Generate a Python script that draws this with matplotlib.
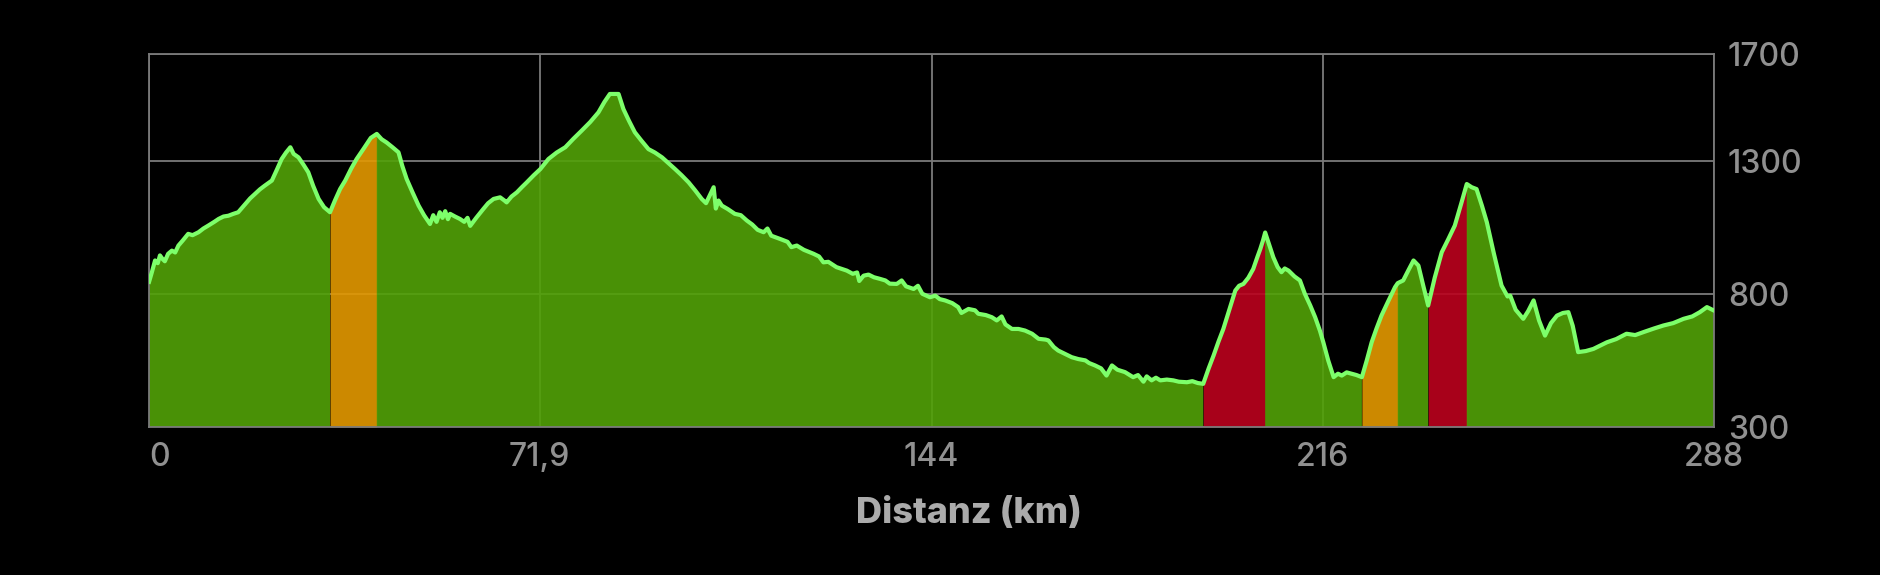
import numpy as np
import matplotlib
matplotlib.use('Agg')
import matplotlib.pyplot as plt

plt.rcParams['font.family'] = ['Inter', 'DejaVu Sans']

# distance (km) and elevation (m)
km = [0.0, 0.5, 1.1, 1.6, 2.0, 2.5, 2.9, 3.5, 4.2, 4.8, 5.4, 6.2, 7.2, 8.0, 9.1, 10.0,
      10.9, 12.0, 12.8, 13.7, 14.6, 15.5, 16.4, 17.7, 18.6, 19.5, 20.4, 21.3, 22.6, 23.5,
      24.4, 25.2, 26.0, 26.6, 27.5, 28.4, 29.3, 30.2, 31.2, 32.2, 33.3, 34.2, 35.15, 36.1,
      37.2, 38.2, 39.5, 40.8, 41.9, 42.8, 43.7, 44.8, 45.9, 46.6, 47.4, 48.5, 49.6, 50.6,
      51.7, 52.3, 52.9, 53.5, 54.0, 54.5, 55.0, 55.4, 56.3, 57.2, 58.0, 58.6, 59.1, 60.2,
      61.5, 62.4, 63.4, 64.6, 65.4, 65.8, 66.7, 67.7, 68.6, 69.5, 70.8, 72.0, 73.5, 75.0,
      76.6, 78.1, 79.6, 81.2, 82.7, 83.8, 84.8, 86.4, 87.3, 88.3, 89.4, 90.6, 91.9, 93.1,
      94.4, 95.6, 96.8, 98.0, 99.3, 100.5, 101.7, 102.5, 103.2, 103.9, 104.3, 104.8, 105.4,
      106.5, 107.8, 108.9, 110.0, 111.0, 112.0, 113.1, 113.8, 114.5, 116.1, 117.5, 118.2,
      119.2, 120.5, 122.3, 123.3, 124.1, 125.0, 126.5, 127.5, 128.4, 129.5, 130.3, 130.7,
      131.5, 132.4, 133.4, 134.5, 135.5, 136.3, 137.6, 138.5, 139.3, 140.7, 141.5, 142.3,
      143.7, 144.7, 145.5, 146.5, 147.8, 148.9, 149.5, 150.8, 152.0, 152.6, 154.0, 155.1,
      156.0, 156.9, 157.6, 158.8, 160.0, 161.2, 162.5, 163.7, 165.0, 165.5, 166.5, 167.3,
      168.5, 169.8, 171.0, 172.3, 173.0, 174.1, 175.2, 176.2, 177.2, 178.2, 179.6, 181.1,
      182.0, 183.0, 183.6, 184.5, 185.3, 186.1, 187.3, 188.5, 189.5, 191.0, 192.0, 193.0,
      194.0, 195.0, 195.9, 196.8, 197.7, 198.8, 199.9, 200.6, 201.4, 202.3, 203.2, 204.0,
      204.5, 205.0, 205.4, 206.2, 206.9, 207.7, 208.4, 209.0, 209.7, 210.8, 211.8, 212.7,
      213.7, 214.6, 215.5, 216.1, 217.0, 218.0, 218.8, 219.5, 220.4, 221.3, 222.2, 223.2,
      224.1, 225.0, 225.9, 226.8, 228.0, 229.3, 229.8, 230.8, 231.8, 232.7, 233.6, 234.5,
      235.4, 236.6, 237.9, 239.1, 240.3, 241.5, 242.5, 243.4, 244.3, 245.3, 246.2, 247.5,
      248.9, 250.0, 250.5, 251.5, 252.9, 253.8, 254.8, 255.8, 256.9, 258.0, 259.1, 260.2,
      261.2, 262.0, 263.0, 264.4, 265.8, 267.0, 268.3, 270.0, 271.9, 273.5, 275.0, 277.0,
      278.7, 280.5, 282.4, 284.0, 285.4, 286.7, 288.0]
elev = [845, 880, 925, 915, 944, 930, 922, 950, 962, 955, 981, 1000, 1025, 1020, 1031, 1045,
        1056, 1070, 1081, 1090, 1093, 1100, 1106, 1137, 1158, 1175, 1192, 1206, 1225, 1265,
        1306, 1330, 1350, 1325, 1312, 1285, 1256, 1205, 1156, 1125, 1106, 1150, 1193, 1225,
        1270, 1306, 1345, 1385, 1400, 1380, 1368, 1350, 1331, 1280, 1231, 1180, 1131, 1095,
        1062, 1095, 1070, 1106, 1085, 1110, 1080, 1100, 1090, 1081, 1070, 1085, 1055, 1085,
        1118, 1140, 1156, 1162, 1150, 1143, 1165, 1181, 1200, 1218, 1245, 1268, 1306, 1330,
        1350, 1382, 1412, 1445, 1481, 1520, 1550, 1550, 1493, 1450, 1406, 1375, 1343, 1330,
        1312, 1290, 1268, 1245, 1218, 1188, 1156, 1140, 1170, 1200, 1120, 1150, 1131,
        1118, 1100, 1095, 1075, 1060, 1040, 1031, 1045, 1018, 1006, 995, 975,
        981, 965, 950, 940, 918, 920, 900, 893, 887, 875, 880, 848,
        868, 872, 862, 856, 850, 838, 837, 850, 828, 818, 830, 800,
        787, 793, 780, 775, 765, 750, 728, 743, 738, 725, 720, 712,
        700, 715, 685, 668, 668, 662, 650, 631, 628, 625, 600, 587,
        575, 562, 555, 550, 540, 531, 520, 493, 531, 515, 506, 487,
        495, 470, 490, 475, 485, 475, 478, 475, 470, 468, 472, 465,
        462, 520, 568, 620, 668, 740, 812, 830, 837, 860, 893, 940,
        968, 1000, 1030, 980, 937, 900, 881, 895, 887, 865, 850, 800,
        756, 712, 660, 618, 550, 487, 500, 493, 505, 500, 495, 487,
        550, 618, 670, 718, 770, 825, 840, 850, 890, 925, 906, 830,
        756, 860, 956, 1005, 1056, 1140, 1212, 1200, 1193, 1130, 1068, 950,
        831, 790, 793, 740, 706, 735, 775, 700, 643, 690, 718, 728,
        731, 680, 581, 585, 593, 605, 618, 630, 650, 645, 656, 670,
        681, 690, 706, 715, 731, 750, 737]

# steep sections (start km, end km, colour)
seg_start = [33.3, 194.0, 223.2, 235.4]
seg_end = [41.9, 205.4, 229.8, 242.5]
seg_color = ['#e39900', '#bb021d', '#e39900', '#bb021d']

xticks = [0, 71.9, 144, 216, 288]
xticklabels = ['0', '71,9', '144', '216', '288']
yticks = [300, 800, 1300, 1700]

km = np.array(km)
elev = np.array(elev)

fig = plt.figure(figsize=(18.8, 5.75), dpi=100, facecolor='black')
ax = fig.add_axes([0.0793, 0.2574, 0.8324, 0.6487])
ax.set_facecolor('black')

in_seg = np.zeros(len(km), dtype=bool)
for a, b, c in zip(seg_start, seg_end, seg_color):
    m = (km >= a) & (km <= b)
    in_seg |= (km > a) & (km < b)
    ax.fill_between(km, 300, elev, where=m, color=c, alpha=0.9, lw=0, zorder=2)
ax.fill_between(km, 300, elev, where=~in_seg, color='#52a207', alpha=0.9, lw=0, zorder=2)
ax.plot(km, elev, color='#7dff6a', lw=3, zorder=3)

ax.set_xlim(0, 288)
ax.set_ylim(300, 1700)
ax.set_xticks(xticks)
ax.set_xticklabels(xticklabels)
ax.get_xticklabels()[0].set_horizontalalignment('left')
ax.set_yticks(yticks)
ax.yaxis.tick_right()
ax.tick_params(axis='both', length=0, labelsize=23, labelcolor='#909090')
for lbl in ax.get_xticklabels() + ax.get_yticklabels():
    lbl.set_fontweight('medium')
ax.tick_params(axis='y', pad=10)
ax.tick_params(axis='x', pad=11)
ax.grid(True, color='#7a7a7a', lw=1.3, zorder=0)
ax.set_axisbelow(True)
for s in ax.spines.values():
    s.set_color('#7a7a7a')
    s.set_linewidth(1.3)

ax.set_xlabel('Distanz (km)', fontsize=26, fontweight='heavy', color='#ababab')
ax.xaxis.set_label_coords(0.5237, -0.187)

fig.savefig('out.png', dpi=100, facecolor='black')
